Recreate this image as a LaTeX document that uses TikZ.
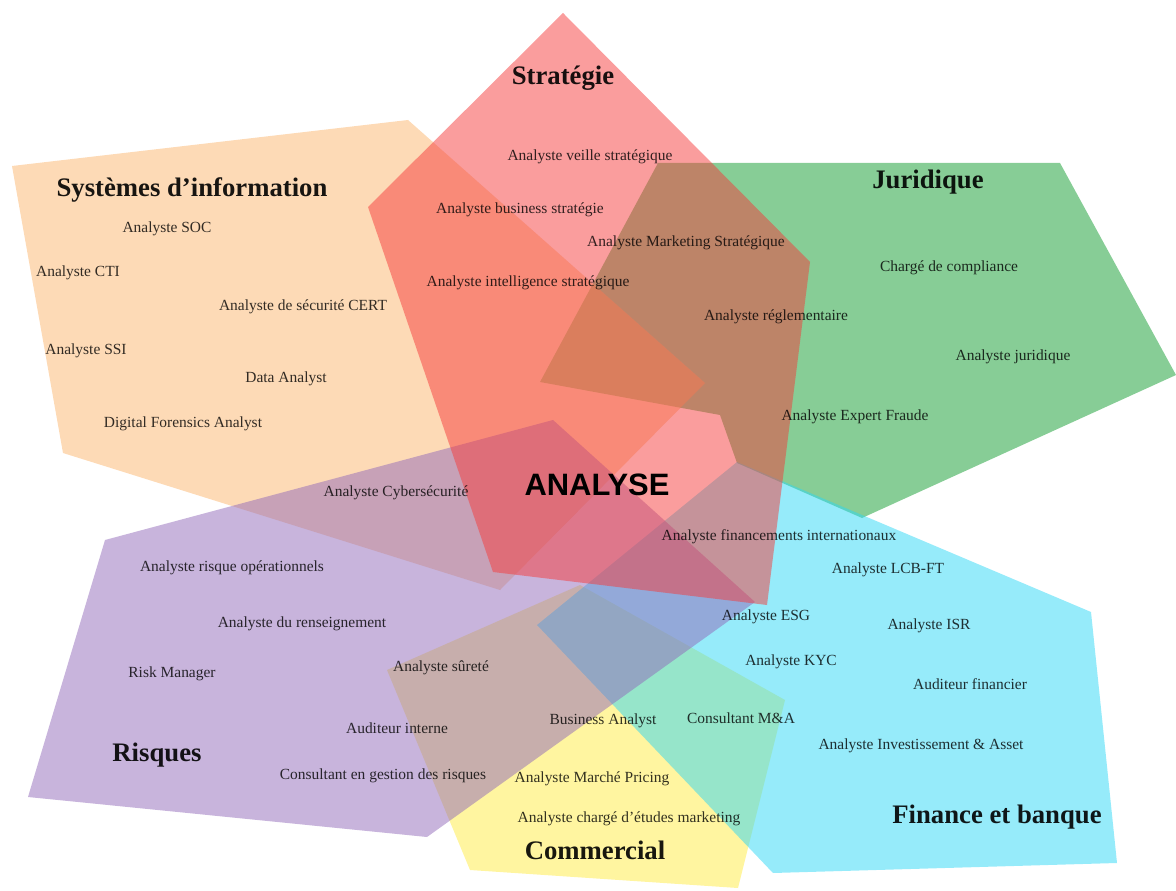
\documentclass[tikz,border=0pt]{standalone}
\usepackage{fontspec}
\setmainfont{Liberation Serif}
\newfontfamily\analysefont{Liberation Sans}
\usetikzlibrary{positioning}

\definecolor{sicolor}{RGB}{251,181,109}
\definecolor{stratcolor}{RGB}{245,60,60}
\definecolor{juricolor}{RGB}{15,155,45}
\definecolor{riskcolor}{RGB}{145,105,185}
\definecolor{fincolor}{RGB}{45,215,245}
\definecolor{comcolor}{RGB}{255,235,65}

\begin{document}
\begin{tikzpicture}[x=0.025cm,y=-0.025cm,
    zone/.style={fill opacity=0.5},
    titre/.style={font=\bfseries\fontsize{19}{22}\selectfont,text opacity=0.9},
    metier/.style={font=\fontsize{11}{13}\selectfont,text opacity=0.8},
    centre/.style={font=\analysefont\bfseries\fontsize{22}{26}\selectfont}]
      \useasboundingbox (0,0) rectangle (1176,891);

      \fill[zone,comcolor] (387,670) -- (580,585) -- (785,700) -- (738,888) -- (470,870) -- cycle;
      \fill[zone,juricolor] (658,163) -- (1060,163) -- (1176,375) -- (862,518) -- (737,463) -- (720,415) -- (540,382) -- cycle;
      \fill[zone,sicolor] (12,166) -- (408,120) -- (705,383) -- (500,590) -- (63,453) -- cycle;
      \fill[zone,fincolor] (537,625) -- (737,462) -- (1091,612) -- (1117,863) -- (773,873) -- cycle;
      \fill[zone,riskcolor] (105,540) -- (553,420) -- (755,602) -- (427,837) -- (28,797) -- cycle;
      \fill[zone,stratcolor] (563,13) -- (810,262) -- (767,605) -- (493,572) -- (368,207) -- cycle;

      \node[titre] (t_strat) at (563,78) {Stratégie};
      \node[titre] (t_si) at (192,190) {Systèmes d’information};
      \node[titre] (t_juri) at (928,182) {Juridique};
      \node[titre] (t_risk) at (157,755) {Risques};
      \node[titre] (t_com) at (595,850) {Commercial};
      \node[titre] (t_fin) at (997,817) {Finance et banque};
      \node[centre] (analyse) at (597,485) {ANALYSE};

      \node[metier] (m_veille) at (590,157) {Analyste veille stratégique};
      \node[metier] (m_business) at (520,210) {Analyste business stratégie};
      \node[metier] (m_marketing) at (686,243) {Analyste Marketing Stratégique};
      \node[metier] (m_intel) at (528,283) {Analyste intelligence stratégique};
      \node[metier] (m_regl) at (776,317) {Analyste réglementaire};
      \node[metier] (m_compl) at (949,268) {Chargé de compliance};
      \node[metier] (m_jur) at (1013,357) {Analyste juridique};
      \node[metier] (m_fraude) at (855,417) {Analyste Expert Fraude};
      \node[metier] (m_soc) at (167,229) {Analyste SOC};
      \node[metier] (m_cti) at (78,273) {Analyste CTI};
      \node[metier] (m_cert) at (303,307) {Analyste de sécurité CERT};
      \node[metier] (m_ssi) at (86,351) {Analyste SSI};
      \node[metier] (m_data) at (286,379) {Data Analyst};
      \node[metier] (m_forens) at (183,424) {Digital Forensics Analyst};
      \node[metier] (m_cyber) at (396,493) {Analyste Cybersécurité};
      \node[metier] (m_intl) at (779,537) {Analyste financements internationaux};
      \node[metier] (m_lcb) at (888,570) {Analyste LCB-FT};
      \node[metier] (m_risqop) at (232,568) {Analyste risque opérationnels};
      \node[metier] (m_rens) at (302,624) {Analyste du renseignement};
      \node[metier] (m_esg) at (766,617) {Analyste ESG};
      \node[metier] (m_isr) at (929,626) {Analyste ISR};
      \node[metier] (m_kyc) at (791,662) {Analyste KYC};
      \node[metier] (m_surete) at (441,668) {Analyste sûreté};
      \node[metier] (m_riskman) at (172,674) {Risk Manager};
      \node[metier] (m_audfin) at (970,684) {Auditeur financier};
      \node[metier] (m_audint) at (397,728) {Auditeur interne};
      \node[metier] (m_ba) at (603,721) {Business Analyst};
      \node[metier] (m_ma) at (741,718) {Consultant M\&A};
      \node[metier] (m_invest) at (921,746) {Analyste Investissement \& Asset};
      \node[metier] (m_gestion) at (383,776) {Consultant en gestion des risques};
      \node[metier] (m_pricing) at (592,779) {Analyste Marché Pricing};
      \node[metier] (m_etudes) at (629,819) {Analyste chargé d’études marketing};
\end{tikzpicture}
\end{document}
